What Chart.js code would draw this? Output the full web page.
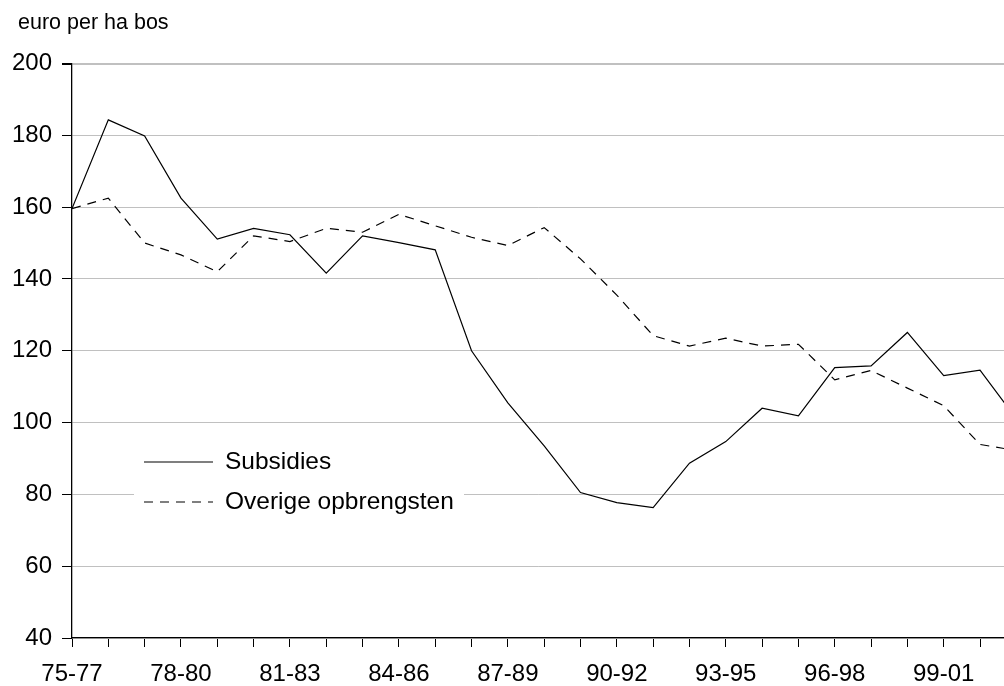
<!DOCTYPE html>
<html>
<head>
<meta charset="utf-8">
<script src="https://cdn.jsdelivr.net/npm/chart.js@4/dist/chart.umd.min.js"></script>
<style>
  body { margin: 0; background: #fff; }
  #wrap { width: 1004px; height: 686px; }
</style>
</head>
<body>
<div id="wrap"><canvas id="chart"></canvas></div>
<script>
const periods = ['75-77','76-78','77-79','78-80','79-81','80-82','81-83','82-84','83-85','84-86',
  '85-87','86-88','87-89','88-90','89-91','90-92','91-93','92-94','93-95','94-96',
  '95-97','96-98','97-99','98-00','99-01','00-02','01-03'];
const subsidies = [159.6,184.3,179.8,162.5,151.1,154.1,152.3,141.6,152.0,150.1,148.1,120.0,105.5,93.5,
  80.5,77.7,76.3,88.7,94.7,104.0,101.9,115.3,115.8,125.1,113.1,114.6,101.0];
const overige = [159.6,162.5,150.0,146.7,142.0,152.0,150.4,154.1,153.0,158.0,154.8,151.6,149.3,154.3,
  145.6,135.5,124.2,121.3,123.5,121.3,121.8,111.9,114.5,109.6,104.7,93.9,92.2];
const yTicks = [40, 60, 80, 100, 120, 140, 160, 180, 200];
const unitLabel = 'euro per ha bos';

const FONT = "'Liberation Sans', Arial, sans-serif";
const ctx = document.getElementById('chart').getContext('2d');

// unit text above the y axis
const unitText = {
  id: 'unitText',
  afterDraw(chart) {
    const {ctx, chartArea} = chart;
    ctx.save();
    ctx.font = '21.5px ' + FONT;
    ctx.fillStyle = '#000';
    ctx.textBaseline = 'middle';
    ctx.fillText(unitLabel, chartArea.left - 54, 23);
    ctx.restore();
  }
};

// legend drawn inside the plot, on a white box
const legendBox = {
  id: 'legendBox',
  afterDatasetsDraw(chart) {
    const {ctx, chartArea} = chart;
    const x = chartArea.left + 62, y = chartArea.bottom - 195;
    ctx.save();
    ctx.fillStyle = '#fff';
    ctx.fillRect(x, y, 330, 78);
    ctx.font = '24.5px ' + FONT;
    ctx.textBaseline = 'middle';
    chart.data.datasets.forEach((ds, i) => {
      const ly = y + 19 + i * 40;
      ctx.strokeStyle = ds.borderColor;
      ctx.lineWidth = ds.borderWidth;
      ctx.setLineDash(ds.borderDash || []);
      ctx.beginPath();
      ctx.moveTo(x + 10, ly);
      ctx.lineTo(x + 79, ly);
      ctx.stroke();
      ctx.fillStyle = '#000';
      ctx.fillText(ds.label, x + 91, ly);
    });
    ctx.restore();
  }
};

const data = {
  datasets: [{
    label: 'Subsidies',
    data: subsidies.map((v, i) => ({x: i, y: v})),
    borderColor: '#000',
    borderWidth: 1.2,
    pointRadius: 0,
    tension: 0
  }, {
    label: 'Overige opbrengsten',
    data: overige.map((v, i) => ({x: i, y: v})),
    borderColor: '#000',
    borderWidth: 1.2,
    borderDash: [9, 7],
    pointRadius: 0,
    tension: 0
  }]
};

const config = {
  type: 'line',
  data: data,
  plugins: [legendBox, unitText],
  options: {
    responsive: true,
    maintainAspectRatio: false,
    animation: false,
    layout: { padding: { left: 0, right: 0, top: 63.5, bottom: 0 } },
    plugins: {
      legend: { display: false },
      tooltip: { enabled: false },
      title: { display: false }
    },
    scales: {
      x: {
        type: 'linear',
        min: 0,
        max: 25.66,
        afterFit: s => { s.height = 48; },
        border: { display: true, color: '#000', width: 1.3 },
        grid: { drawOnChartArea: false, drawTicks: true, tickLength: 9, color: '#000' },
        ticks: {
          stepSize: 1,
          includeBounds: false,
          autoSkip: false,
          maxRotation: 0,
          padding: 13,
          color: '#000',
          font: { family: FONT, size: 24 },
          callback: v => (Number.isInteger(v) && v % 3 === 0) ? periods[v] : ''
        }
      },
      y: {
        min: yTicks[0],
        max: yTicks[yTicks.length - 1],
        afterFit: s => { s.width = 72; },
        border: { display: true, color: '#000', width: 1.3 },
        grid: {
          color: '#c0c0c0',
          tickColor: '#000',
          tickLength: 10,
          lineWidth: c => (c.tick && c.tick.value === 200) ? 2 : 1
        },
        ticks: {
          stepSize: 20,
          padding: 10,
          color: '#000',
          font: { family: FONT, size: 24 }
        }
      }
    }
  }
};

const myChart = new Chart(ctx, config);
</script>
</body>
</html>
